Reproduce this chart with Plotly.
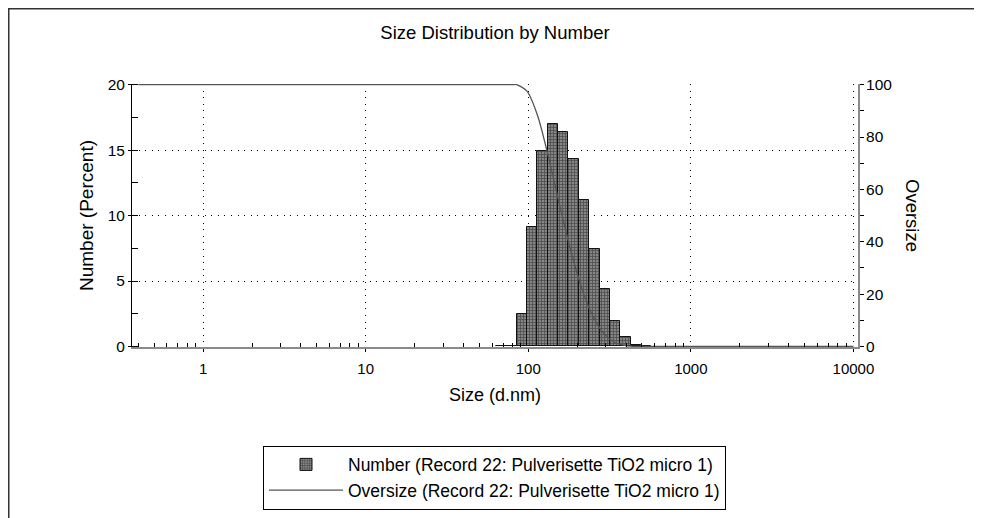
import math
import plotly.graph_objects as go

# ---- data ----
size_classes = [68.06, 78.82, 91.28, 105.7, 122.4, 141.8, 164.2, 190.1, 220.2,
                255.0, 295.3, 342.0, 396.1, 458.7, 531.2]
number_pct = [0, 0, 2.47, 9.14, 14.9, 17.0, 16.4, 14.3, 11.2, 7.44, 4.37,
              1.96, 0.69, 0.10, 0]

oversize_size = [0.4, 78.8, 84.8, 98.2, 113.8, 131.8, 152.6, 176.7, 204.6, 237.0,
                 274.5, 317.8, 368.1, 426.2, 493.6, 10000]
oversize_val = [100, 100, 100, 97.5, 88.4, 73.5, 56.5, 40.1, 25.8, 14.6, 7.2, 2.8,
                0.8, 0.1, 0, 0]

x_tickvals = [1, 10, 100, 1000, 10000]
x_ticktext = ["1", "10", "100", "1000", "10000"]
y_tickvals = [0, 5, 10, 15, 20]
y2_tickvals = [0, 20, 40, 60, 80, 100]

legend_number = "Number (Record 22: Pulverisette TiO2 micro 1)"
legend_oversize = "Oversize (Record 22: Pulverisette TiO2 micro 1)"

# ---- bar geometry on the log axis (one log step per size class) ----
step = size_classes[1] / size_classes[0]
lo = [s / math.sqrt(step) for s in size_classes]
hi = [s * math.sqrt(step) for s in size_classes]
widths = [h - l for l, h in zip(lo, hi)]
offsets = [l - s for l, s in zip(lo, size_classes)]

FONT = "Liberation Sans, Arial, sans-serif"

# plot area in figure pixels
L, R, T, B = 124, 850, 76, 339
W, H = 982, 518
PW, PH = R - L, B - T


def px(x):
    return (x - L) / PW


def py(y):
    return (B - y) / PH


fig = go.Figure()
fig.add_trace(go.Bar(
    x=size_classes, y=number_pct, width=widths, offset=offsets,
    name=legend_number,
    marker=dict(color="#4c4c4c",
                line=dict(color="#111111", width=1),
                pattern=dict(shape="+", fgcolor="#151515", bgcolor="#858585",
                             size=3, solidity=0.45)),
    xaxis="x", yaxis="y",
))
fig.add_trace(go.Scatter(
    x=oversize_size, y=oversize_val, mode="lines", name=legend_oversize,
    line=dict(color="#555555", width=1.3, shape="spline", smoothing=0.8),
    xaxis="x", yaxis="y2",
))

minor_x = [m * 10 ** e for e in range(-1, 4) for m in range(2, 10) if m * 10 ** e >= 0.4]

grid_dash = "1px,5.6px"
fig.update_layout(
    width=W, height=H,
    margin=dict(l=L, r=W - R, t=T, b=H - B),
    paper_bgcolor="white", plot_bgcolor="white",
    font=dict(family=FONT, color="black", size=17),
    bargap=0,
    title=dict(text="Size Distribution by Number", x=0.5, xref="paper",
               xanchor="center", y=1 - 25 / H, yanchor="middle",
               font=dict(size=18.5)),
    xaxis=dict(
        type="log", range=[-0.437, 4.028],
        tickmode="array", tickvals=x_tickvals, ticktext=x_ticktext,
        ticks="outside", ticklen=3, tickcolor="black",
        ticklabelstandoff=4,
        tickfont=dict(size=15),
        showgrid=True, gridcolor="black", gridwidth=1, griddash=grid_dash,
        showline=True, linecolor="#8a8a8a", linewidth=1.6,
        zeroline=False,
        minor=dict(tickmode="array", tickvals=minor_x, ticks="inside",
                   ticklen=4, tickcolor="black", showgrid=False),
        title=dict(text="Size (d.nm)", font=dict(size=18), standoff=13),
    ),
    yaxis=dict(
        range=[-0.04, 20.05], tickmode="array", tickvals=y_tickvals,
        ticks="outside", ticklen=3, tickcolor="black",
        tickfont=dict(size=15.5),
        showgrid=True, gridcolor="black", gridwidth=1, griddash=grid_dash,
        showline=True, linecolor="black", linewidth=1,
        zeroline=False,
        minor=dict(dtick=2.5, ticks="inside", ticklen=6, tickcolor="black",
                   showgrid=False),
        title=dict(text="Number (Percent)", font=dict(size=19), standoff=9),
    ),
    yaxis2=dict(
        range=[-0.2, 100.25], overlaying="y", side="right",
        tickmode="array", tickvals=y2_tickvals,
        ticks="outside", ticklen=3, tickcolor="black",
        tickfont=dict(size=15.5),
        showgrid=False, zeroline=False,
        showline=True, linecolor="#8a8a8a", linewidth=2,
        minor=dict(dtick=10, ticks="outside", ticklen=4, tickcolor="black",
                   showgrid=False),
    ),
    legend=dict(
        x=px(255), y=py(469.5), xanchor="left", yanchor="middle",
        bordercolor="black", borderwidth=1, bgcolor="white",
        font=dict(size=17.5), itemwidth=74,
        tracegroupgap=0,
    ),
    showlegend=True,
)

# right-axis title (reads top to bottom)
fig.add_annotation(text="Oversize", xref="paper", yref="paper",
                   x=px(905), y=py(207),
                   showarrow=False, textangle=90, font=dict(size=18.5),
                   xanchor="center", yanchor="middle")

# outer frame of the picture
fig.add_shape(type="rect", xref="paper", yref="paper",
              x0=px(0.75), x1=px(972.5), y0=py(560), y1=py(0.75),
              line=dict(color="#333333", width=1.5), fillcolor="rgba(0,0,0,0)",
              layer="below")

fig.write_html("out.html")
